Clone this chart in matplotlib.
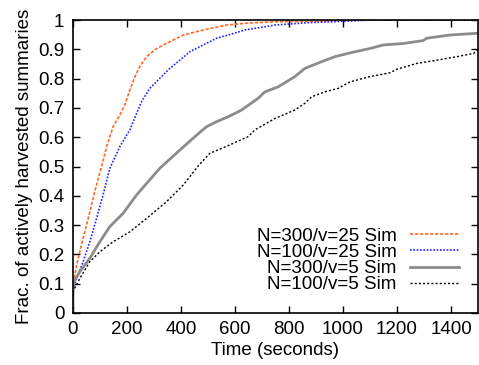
import numpy as np
import matplotlib
matplotlib.use('Agg')
import matplotlib.pyplot as plt

plt.rcParams['font.family'] = ['Liberation Sans', 'DejaVu Sans']

# values (time in seconds, fraction)
t_o300 = [0, 1, 4, 14, 32, 57, 81, 106, 125, 149, 174, 193, 211, 230, 248, 273, 310, 359, 409,
          483, 569, 650, 750, 900, 1000, 1500]
f_o300 = [0.0, 0.09, 0.107, 0.164, 0.232, 0.323, 0.414, 0.499, 0.568, 0.636, 0.675, 0.712, 0.761,
          0.807, 0.841, 0.875, 0.903, 0.926, 0.949, 0.966, 0.983, 0.990, 0.994, 0.996, 1.0, 1.0]

t_b100 = [0, 1, 14, 38, 63, 88, 112, 137, 174, 211, 236, 254, 285, 322, 359, 396, 433, 483, 532,
          575, 637, 748, 870, 1032, 1100, 1500]
f_b100 = [0.0, 0.08, 0.118, 0.175, 0.243, 0.323, 0.403, 0.494, 0.568, 0.625, 0.681, 0.721, 0.767,
          0.801, 0.835, 0.863, 0.892, 0.915, 0.938, 0.949, 0.966, 0.983, 0.991, 0.997, 1.0, 1.0]

t_g300 = [0, 1, 4, 26, 63, 100, 137, 186, 236, 285, 322, 396, 458, 495, 532, 575, 625, 686,
          711, 760, 822, 859, 921, 970, 1026, 1100, 1149, 1223, 1297, 1310, 1396, 1500]
f_g300 = [0.0, 0.08, 0.107, 0.141, 0.187, 0.243, 0.295, 0.340, 0.403, 0.455, 0.494, 0.556,
          0.607, 0.636, 0.653, 0.670, 0.693, 0.733, 0.755, 0.772, 0.807, 0.835, 0.858, 0.875,
          0.888, 0.903, 0.915, 0.920, 0.930, 0.938, 0.949, 0.955]

t_k100 = [0, 1, 26, 63, 100, 149, 211, 273, 347, 409, 464, 507, 569, 649, 674, 748, 822, 859, 884,
          933, 983, 1026, 1100, 1174, 1199, 1273, 1347, 1421, 1483, 1500]
f_k100 = [0.0, 0.073, 0.118, 0.175, 0.209, 0.243, 0.277, 0.323, 0.380, 0.437, 0.502, 0.545, 0.569,
          0.602, 0.625, 0.664, 0.693, 0.716, 0.738, 0.755, 0.767, 0.789, 0.807, 0.820, 0.832,
          0.852, 0.863, 0.875, 0.886, 0.898]

labels = ['N=300/v=25 Sim', 'N=100/v=25 Sim', 'N=300/v=5 Sim', 'N=100/v=5 Sim']

fig = plt.figure(figsize=(4.79, 3.65), dpi=100)
ax = fig.add_axes([0.152, 0.1425, 0.846, 0.8025])

ax.plot(t_o300, f_o300, color='#ff6a2a', lw=1.2, dashes=(2, 1), label=labels[0])
ax.plot(t_b100, f_b100, color='#2020ff', lw=1.2, dashes=(1, 1), label=labels[1])
ax.plot(t_g300, f_g300, color='#8c8c8c', lw=2.0, label=labels[2])
ax.plot(t_k100, f_k100, color='black', lw=1.0, dashes=(1.5, 1.5), label=labels[3])

ax.set_xlim(0, 1500)
ax.set_ylim(0, 1)
ax.set_xticks(np.arange(0, 1401, 200))
ax.set_yticks(np.arange(0, 1.01, 0.1))
ax.set_yticklabels(['0', '0.1', '0.2', '0.3', '0.4', '0.5', '0.6', '0.7', '0.8', '0.9', '1'])
ax.tick_params(direction='in', top=True, right=True, length=5, width=1, labelsize=13.5, pad=6)
for s in ax.spines.values():
    s.set_linewidth(1.2)

ax.set_xlabel('Time (seconds)', fontsize=13.5, labelpad=3)
ax.set_ylabel('Frac. of actively harvested summaries', fontsize=13.5, labelpad=4)

ax.legend(loc='lower right', bbox_to_anchor=(0.975, 0.035), frameon=False, markerfirst=False,
          fontsize=13.5, handlelength=2.6, labelspacing=-0.05, handletextpad=0.7, borderpad=0)

fig.savefig('out.png', dpi=100)
